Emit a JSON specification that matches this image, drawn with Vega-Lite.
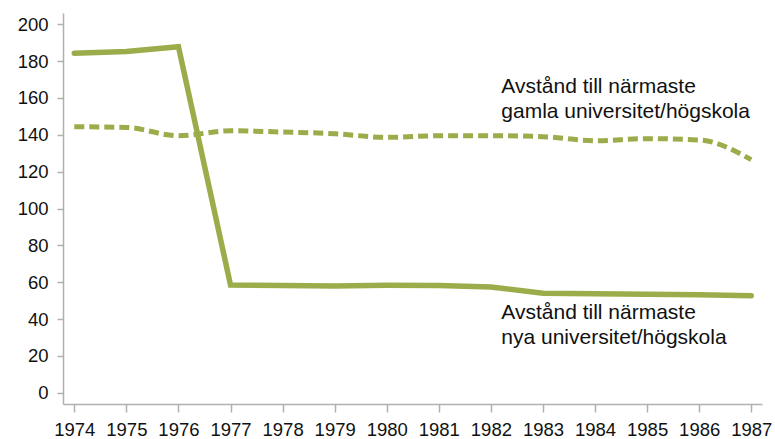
{
  "$schema": "https://vega.github.io/schema/vega-lite/v6.json",
  "autosize": {"type": "none"},
  "width": 699,
  "height": 391,
  "padding": {"left": 63, "top": 13, "right": 13, "bottom": 35},
  "background": "white",
  "config": {
    "view": {"stroke": null},
    "font": "Liberation Sans",
    "axis": {"grid": false, "title": null, "domainColor": "#b0b0b0", "domainWidth": 1.5, "tickColor": "#b0b0b0", "tickWidth": 1.5,
      "labelFontSize": 18.5, "labelColor": "#111", "labelFlush": false, "labelOverlap": false, "labelFont": "Liberation Sans"},
    "axisX": {"tickSize": 8, "labelPadding": 8},
    "axisY": {"tickSize": 6, "labelPadding": 9}
  },
  "datasets": {
    "series": [
      {"year": 1974, "value": 184.3, "serie": "nya"},
      {"year": 1975, "value": 185.2, "serie": "nya"},
      {"year": 1976, "value": 187.8, "serie": "nya"},
      {"year": 1977, "value": 58.5, "serie": "nya"},
      {"year": 1978, "value": 58.2, "serie": "nya"},
      {"year": 1979, "value": 58.0, "serie": "nya"},
      {"year": 1980, "value": 58.3, "serie": "nya"},
      {"year": 1981, "value": 58.2, "serie": "nya"},
      {"year": 1982, "value": 57.4, "serie": "nya"},
      {"year": 1983, "value": 54.0, "serie": "nya"},
      {"year": 1984, "value": 53.7, "serie": "nya"},
      {"year": 1985, "value": 53.5, "serie": "nya"},
      {"year": 1986, "value": 53.2, "serie": "nya"},
      {"year": 1987, "value": 52.7, "serie": "nya"},
      {"year": 1974, "value": 144.4, "serie": "gamla"},
      {"year": 1975, "value": 144.0, "serie": "gamla"},
      {"year": 1976, "value": 139.5, "serie": "gamla"},
      {"year": 1977, "value": 142.2, "serie": "gamla"},
      {"year": 1978, "value": 141.5, "serie": "gamla"},
      {"year": 1979, "value": 140.6, "serie": "gamla"},
      {"year": 1980, "value": 138.6, "serie": "gamla"},
      {"year": 1981, "value": 139.5, "serie": "gamla"},
      {"year": 1982, "value": 139.5, "serie": "gamla"},
      {"year": 1983, "value": 139.0, "serie": "gamla"},
      {"year": 1984, "value": 136.8, "serie": "gamla"},
      {"year": 1985, "value": 137.9, "serie": "gamla"},
      {"year": 1986, "value": 137.2, "serie": "gamla"},
      {"year": 1987, "value": 126.5, "serie": "gamla"}
    ],
    "labels": [
      {"year": 1982.2, "value": 166, "label": "Avstånd till närmaste\ngamla universitet/högskola"},
      {"year": 1982.2, "value": 43.5, "label": "Avstånd till närmaste\nnya universitet/högskola"}
    ]
  },
  "encoding": {
    "x": {"field": "year", "type": "quantitative", "scale": {"domain": [1973.783, 1987.206], "nice": false, "zero": false},
      "axis": {"values": [1974,1975,1976,1977,1978,1979,1980,1981,1982,1983,1984,1985,1986,1987], "format": "d"}},
    "y": {"field": "value", "type": "quantitative", "scale": {"domain": [-6.1, 206.1], "nice": false},
      "axis": {"values": [0,20,40,60,80,100,120,140,160,180,200]}}
  },
  "layer": [
    {
      "data": {"name": "series"},
      "transform": [{"filter": "datum.serie == 'nya'"}],
      "mark": {"type": "line", "color": "#9aad4a", "strokeWidth": 5.5, "strokeCap": "round", "strokeJoin": "miter"}
    },
    {
      "data": {"name": "series"},
      "transform": [{"filter": "datum.serie == 'gamla'"}],
      "mark": {"type": "line", "color": "#9aad4a", "strokeWidth": 5, "strokeDash": [10, 5], "interpolate": "monotone"}
    },
    {
      "data": {"name": "labels"},
      "mark": {"type": "text", "align": "left", "baseline": "middle", "font": "Liberation Sans", "fontSize": 21, "lineHeight": 25, "lineBreak": "\n", "color": "#111"},
      "encoding": {"text": {"field": "label"}}
    }
  ]
}
